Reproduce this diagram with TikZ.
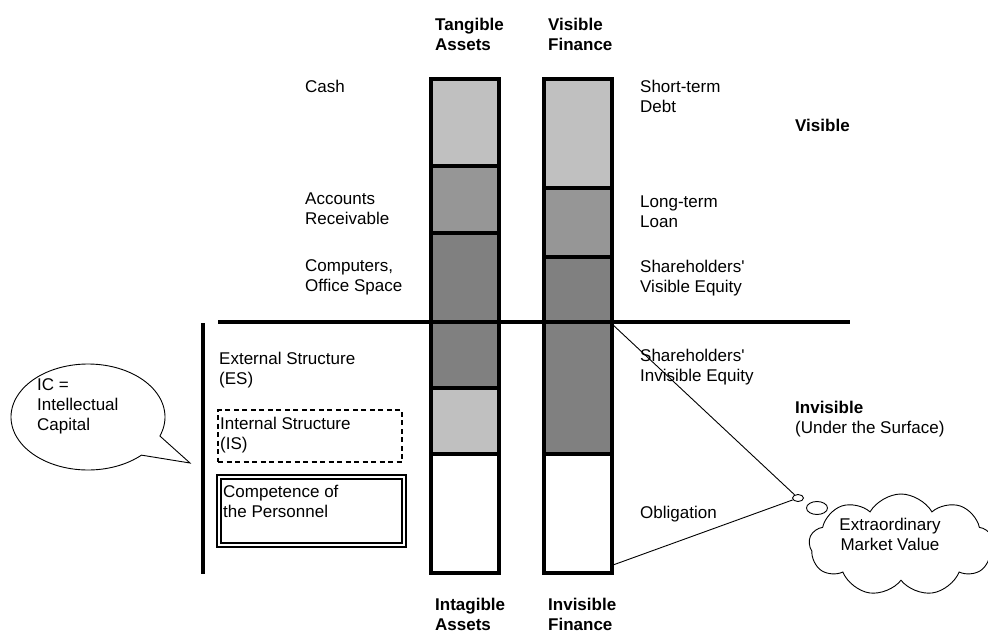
\documentclass[tikz,border=0pt]{standalone}
\usepackage{fontspec}
\setmainfont{Liberation Sans}
\usetikzlibrary{shapes.symbols,shapes.geometric}
\definecolor{lightg}{HTML}{C0C0C0}
\definecolor{midg}{HTML}{969696}
\definecolor{darkg}{HTML}{808080}
\begin{document}
\begin{tikzpicture}[x=1pt,y=-1pt,
  txt/.style={anchor=north west, inner sep=0pt, align=left,
    font=\fontsize{17}{20}\selectfont},
  hdr/.style={txt, font=\bfseries\fontsize{17}{20}\selectfont},
  seg/.style={draw, line width=4pt, inner sep=0pt, minimum width=67.5pt},
  bar/.style={line width=4pt},
  thin/.style={line width=0.9pt}]
\useasboundingbox (0,0) rectangle (988,635);

% headers
\node[hdr] (ta) at (435,18) {Tangible\\Assets};
\node[hdr] (vf) at (548,18) {Visible\\Finance};
\node[hdr] (ia) at (435,598) {Intagible\\Assets};
\node[hdr] (if) at (548,598) {Invisible\\Finance};

% asset column
\node[seg, fill=lightg, minimum height=87pt]  (a1) at (464.75,122.5) {};
\node[seg, fill=midg,   minimum height=67pt]  (a2) at (464.75,199.5) {};
\node[seg, fill=darkg,  minimum height=155pt] (a3) at (464.75,310.5) {};
\node[seg, fill=lightg, minimum height=66pt]  (a4) at (464.75,421) {};
\node[seg, fill=white,  minimum height=119pt] (a5) at (464.75,513.5) {};

% finance column
\node[seg, fill=lightg, minimum height=109pt] (b1) at (577.75,133.5) {};
\node[seg, fill=midg,   minimum height=69pt]  (b2) at (577.75,222.5) {};
\node[seg, fill=darkg,  minimum height=197pt] (b3) at (577.75,355.5) {};
\node[seg, fill=white,  minimum height=119pt] (b4) at (577.75,513.5) {};

% surface line and left bracket
\coordinate (sw) at (218,321.5);
\coordinate (se) at (850,321.5);
\draw[bar] (sw) -- (se);
\coordinate (lt) at (202.5,323);
\coordinate (lb) at (202.5,574);
\draw[bar] (lt) -- (lb);

% asset labels
\node[txt] (cash) at (305,80) {Cash};
\node[txt] (ar)   at (305,193) {Accounts\\Receivable};
\node[txt] (co)   at (305,259) {Computers,\\Office Space};

% finance labels
\node[txt] (std) at (640,80)  {Short-term\\Debt};
\node[txt] (ltl) at (640,196) {Long-term\\Loan};
\node[txt] (sve) at (640,260) {Shareholders\textquotesingle\\Visible Equity};
\node[txt] (sie) at (640,349) {Shareholders\textquotesingle\\Invisible Equity};
\node[txt] (obl) at (640,506) {Obligation};

\node[hdr] (vis) at (795,119) {Visible};
\node[hdr] (invis) at (795,401) {Invisible};
\node[txt] (under) at (795,421) {(Under the Surface)};

% intellectual capital parts
\node[txt] (es) at (219,352) {External Structure\\(ES)};
\node[draw, line width=1.8pt, dash pattern=on 5pt off 3.5pt,
      minimum width=184pt, minimum height=52pt, inner sep=0pt] (isbox) at (310,436) {};
\node[txt] (is) at (220,417) {Internal Structure\\(IS)};
\node[draw, line width=1.3pt, double, double distance=2.6pt,
      minimum width=185pt, minimum height=68pt, inner sep=0pt] (cpbox) at (311.5,511) {};
\node[txt] (cp) at (223,485) {Competence of\\the Personnel};

% speech bubble
\coordinate (tip) at (190,463);
\draw[thin, fill=white] plot[domain=46:381, samples=120, smooth]
  ({88+77*cos(\x)},{417+53*sin(\x)}) -- (tip) -- cycle;
\node[txt] (ic) at (37,378) {IC =\\Intellectual\\Capital};

% thought cloud
\node[cloud, draw, thin, fill=white, cloud puffs=9, cloud puff arc=120,
      aspect=1.9, minimum width=184pt, minimum height=102pt, inner sep=0pt]
  (emv) at (901,545) {};
\node[align=center, inner sep=0pt, font=\fontsize{17}{20}\selectfont]
  (emvt) at (890,534) {Extraordinary\\Market Value};
\node[ellipse, draw, thin, fill=white, minimum width=21pt, minimum height=13pt, inner sep=0pt] (tb2) at (817,508) {};
\node[ellipse, draw, thin, fill=white, minimum width=11pt, minimum height=7pt, inner sep=0pt] (tb1) at (798,498) {};

% connectors from the finance column
\coordinate (fa) at (612,324);
\coordinate (fb) at (613,565);
\draw[thin] (fa) -- (tb1);
\draw[thin] (fb) -- (tb1);
\end{tikzpicture}
\end{document}
